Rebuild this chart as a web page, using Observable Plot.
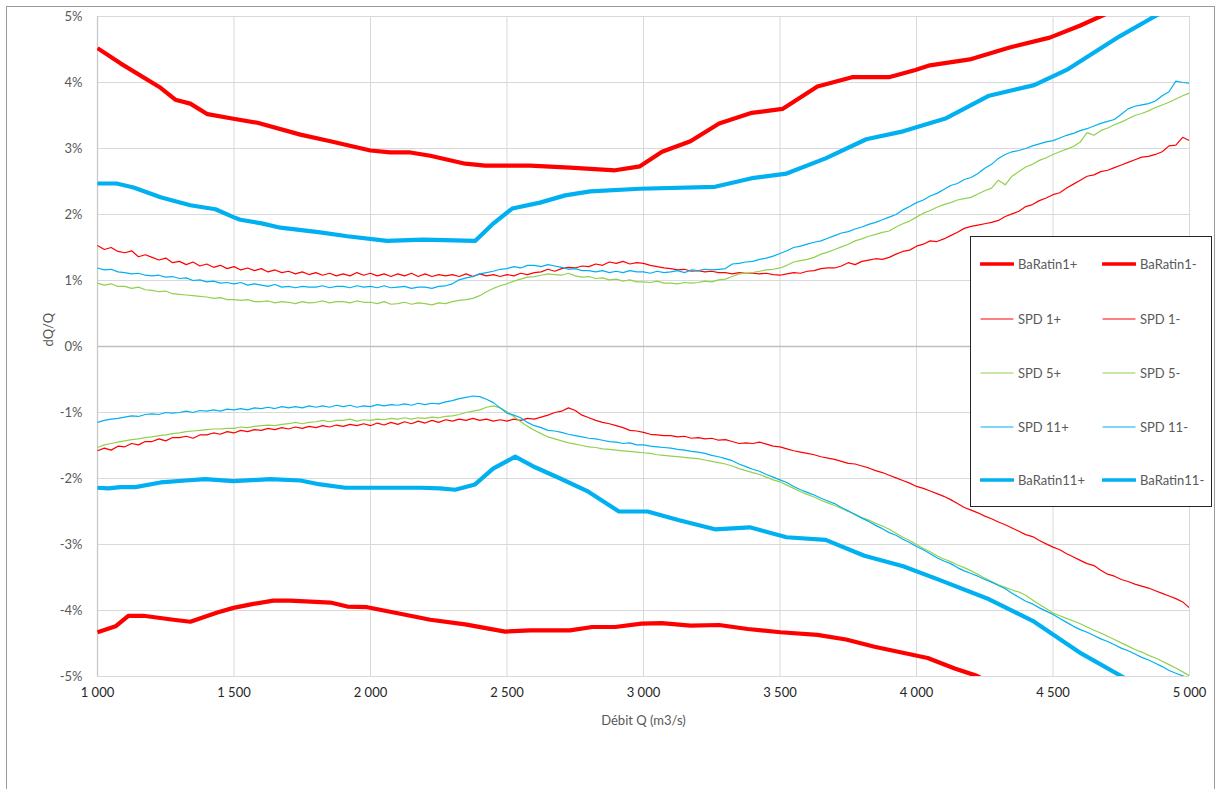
<!DOCTYPE html>
<html>
<head>
<meta charset="utf-8">
<script src="https://cdn.jsdelivr.net/npm/d3@7"></script>
<script src="https://cdn.jsdelivr.net/npm/@observablehq/plot@0.6"></script>
<style>
  body { margin: 0; background: #fff; font-family: Lato, "Open Sans", sans-serif; }
  #wrap { position: relative; width: 1216px; height: 789px; overflow: hidden; background: #fff; }
  #frame { position: absolute; left: 6px; top: 6px; width: 1209px; height: 820px; border: 1px solid #9a9a9a; box-sizing: border-box; pointer-events: none; }
  #legend { position: absolute; left: 970px; top: 236px; width: 242px; height: 271px; border: 1.5px solid #262626; background: #fff; box-sizing: border-box; }
  .item { position: absolute; display: flex; align-items: center; font-size: 13px; color: #595959; white-space: nowrap; height: 16px; }
  .item svg { margin-right: 4px; }
</style>
</head>
<body>
<div id="wrap"><div id="frame"></div></div>
<script>
// ---------- data ----------
const xTicks = [1000, 1500, 2000, 2500, 3000, 3500, 4000, 4500, 5000];
const yTicks = [-5, -4, -3, -2, -1, 0, 1, 2, 3, 4, 5];
const xTitle = "Débit Q (m3/s)";
const yTitle = "dQ/Q";

// SPD curves sampled every 25 m3/s from 1000 to 5000
const spdQ = d3.range(1000, 5001, 25);

const spd1Plus = [
  1.53,1.47,1.50,1.44, 1.42,1.45,1.36,1.39, 1.35,1.31,1.34,1.27, 1.29,1.24,1.28,1.22,
  1.25,1.20,1.23,1.18, 1.21,1.16,1.19,1.15, 1.18,1.13,1.16,1.12, 1.14,1.10,1.13,1.09,
  1.12,1.08,1.11,1.07, 1.10,1.07,1.12,1.08, 1.11,1.07,1.10,1.06, 1.10,1.07,1.11,1.06,
  1.10,1.06,1.09,1.07, 1.09,1.06,1.10,1.06, 1.10,1.07,1.09,1.06, 1.09,1.07,1.11,1.09,
  1.12,1.13,1.17,1.14, 1.18,1.20,1.19,1.22, 1.21,1.25,1.23,1.28, 1.26,1.29,1.25,1.27,
  1.26,1.23,1.21,1.19, 1.18,1.16,1.17,1.14, 1.15,1.13,1.14,1.12, 1.12,1.10,1.12,1.11,
  1.11,1.10,1.11,1.09, 1.08,1.10,1.12,1.11, 1.14,1.15,1.18,1.19, 1.19,1.22,1.27,1.24,
  1.29,1.31,1.33,1.32, 1.35,1.40,1.44,1.46, 1.52,1.55,1.60,1.59, 1.63,1.68,1.73,1.79,
  1.82,1.84,1.86,1.88, 1.91,1.97,2.01,2.05, 2.12,2.15,2.21,2.25, 2.30,2.33,2.40,2.46,
  2.52,2.58,2.60,2.65, 2.67,2.71,2.75,2.79, 2.83,2.87,2.88,2.91, 2.95,3.04,3.05,3.17,
  3.12
];
const spd1Minus = [
  -1.58,-1.54,-1.57,-1.51, -1.52,-1.47,-1.49,-1.44, -1.44,-1.40,-1.43,-1.38, -1.38,-1.36,-1.39,-1.34,
  -1.34,-1.31,-1.33,-1.29, -1.31,-1.27,-1.29,-1.26, -1.27,-1.24,-1.26,-1.23, -1.25,-1.22,-1.24,-1.21,
  -1.23,-1.20,-1.22,-1.19, -1.21,-1.18,-1.20,-1.17, -1.20,-1.16,-1.19,-1.15, -1.18,-1.14,-1.17,-1.13,
  -1.16,-1.12,-1.15,-1.11, -1.13,-1.10,-1.12,-1.09, -1.12,-1.10,-1.13,-1.11, -1.13,-1.10,-1.12,-1.09,
  -1.10,-1.07,-1.04,-1.00, -0.98,-0.93,-0.97,-1.04, -1.08,-1.12,-1.15,-1.17, -1.20,-1.23,-1.27,-1.28,
  -1.30,-1.33,-1.34,-1.35, -1.35,-1.37,-1.36,-1.39, -1.38,-1.40,-1.39,-1.42, -1.41,-1.44,-1.47,-1.46,
  -1.47,-1.45,-1.48,-1.51, -1.52,-1.55,-1.58,-1.60, -1.62,-1.64,-1.67,-1.69, -1.71,-1.74,-1.77,-1.78,
  -1.81,-1.84,-1.88,-1.91, -1.95,-1.99,-2.03,-2.07, -2.12,-2.15,-2.19,-2.23, -2.27,-2.32,-2.38,-2.44,
  -2.48,-2.52,-2.57,-2.61, -2.66,-2.70,-2.75,-2.80, -2.85,-2.88,-2.94,-2.99, -3.04,-3.08,-3.14,-3.19,
  -3.24,-3.29,-3.32,-3.39, -3.45,-3.48,-3.53,-3.56, -3.60,-3.63,-3.66,-3.70, -3.74,-3.78,-3.82,-3.87,
  -3.96
];
const spd5Plus = [
  0.96,0.93,0.95,0.91, 0.91,0.88,0.90,0.86, 0.85,0.83,0.84,0.80, 0.79,0.78,0.77,0.76,
  0.75,0.73,0.74,0.71, 0.71,0.70,0.71,0.68, 0.68,0.69,0.66,0.68, 0.67,0.65,0.68,0.66,
  0.67,0.69,0.66,0.68, 0.68,0.66,0.69,0.67, 0.67,0.65,0.68,0.64, 0.65,0.67,0.64,0.66,
  0.65,0.63,0.66,0.65, 0.68,0.70,0.71,0.73, 0.77,0.83,0.88,0.92, 0.95,0.99,1.02,1.05,
  1.06,1.08,1.10,1.09, 1.08,1.11,1.07,1.05, 1.06,1.03,1.04,1.01, 1.02,0.99,1.01,0.98,
  0.98,0.97,0.99,0.96, 0.96,0.95,0.97,0.96, 0.97,0.99,0.98,1.01, 1.02,1.06,1.10,1.11,
  1.12,1.14,1.16,1.17, 1.19,1.23,1.28,1.30, 1.32,1.35,1.40,1.43, 1.47,1.51,1.55,1.60,
  1.63,1.67,1.70,1.73, 1.75,1.81,1.86,1.90, 1.96,2.02,2.06,2.11, 2.15,2.18,2.22,2.24,
  2.26,2.31,2.36,2.40, 2.52,2.45,2.58,2.65, 2.72,2.76,2.82,2.86, 2.91,2.95,2.99,3.03,
  3.10,3.24,3.20,3.27, 3.31,3.36,3.40,3.45, 3.50,3.53,3.57,3.62, 3.66,3.70,3.75,3.80,
  3.84
];
const spd5Minus = [
  -1.53,-1.49,-1.47,-1.45, -1.43,-1.41,-1.40,-1.38, -1.37,-1.35,-1.34,-1.32, -1.31,-1.29,-1.28,-1.27,
  -1.26,-1.25,-1.25,-1.24, -1.24,-1.22,-1.23,-1.21, -1.20,-1.19,-1.20,-1.18, -1.17,-1.15,-1.17,-1.15,
  -1.14,-1.12,-1.14,-1.12, -1.12,-1.10,-1.13,-1.11, -1.12,-1.10,-1.11,-1.09, -1.10,-1.08,-1.10,-1.08,
  -1.09,-1.07,-1.08,-1.06, -1.05,-1.03,-1.00,-0.98, -0.96,-0.92,-0.90,-0.93, -0.99,-1.06,-1.14,-1.21,
  -1.27,-1.32,-1.37,-1.40, -1.43,-1.46,-1.48,-1.50, -1.52,-1.53,-1.55,-1.56, -1.57,-1.58,-1.59,-1.60,
  -1.61,-1.62,-1.64,-1.65, -1.66,-1.67,-1.68,-1.69, -1.70,-1.72,-1.74,-1.76, -1.78,-1.81,-1.85,-1.88,
  -1.91,-1.94,-1.98,-2.02, -2.05,-2.10,-2.15,-2.20, -2.24,-2.28,-2.33,-2.37, -2.41,-2.45,-2.50,-2.54,
  -2.59,-2.63,-2.68,-2.72, -2.77,-2.83,-2.89,-2.94, -3.00,-3.06,-3.11,-3.17, -3.22,-3.26,-3.31,-3.35,
  -3.40,-3.45,-3.51,-3.56, -3.61,-3.65,-3.69,-3.72, -3.77,-3.84,-3.91,-3.97, -4.04,-4.08,-4.12,-4.16,
  -4.20,-4.25,-4.30,-4.34, -4.39,-4.44,-4.49,-4.54, -4.59,-4.63,-4.68,-4.72, -4.77,-4.82,-4.87,-4.93,
  -4.99
];
const spd11Plus = [
  1.19,1.16,1.17,1.13, 1.12,1.10,1.11,1.08, 1.07,1.08,1.05,1.06, 1.03,1.04,1.00,1.01,
  0.98,0.99,0.96,0.97, 0.95,0.97,0.93,0.95, 0.93,0.91,0.94,0.90, 0.91,0.89,0.91,0.90,
  0.90,0.92,0.89,0.91, 0.91,0.89,0.92,0.90, 0.91,0.89,0.92,0.89, 0.90,0.91,0.88,0.90,
  0.90,0.88,0.91,0.92, 0.95,1.01,1.04,1.06, 1.10,1.12,1.14,1.17, 1.18,1.21,1.19,1.23,
  1.23,1.21,1.24,1.22, 1.20,1.17,1.18,1.15, 1.15,1.13,1.15,1.12, 1.14,1.12,1.15,1.13,
  1.13,1.11,1.14,1.12, 1.13,1.15,1.12,1.16, 1.15,1.17,1.16,1.17, 1.18,1.25,1.26,1.28,
  1.29,1.32,1.34,1.37, 1.41,1.45,1.50,1.52, 1.55,1.58,1.60,1.64, 1.68,1.72,1.74,1.78,
  1.81,1.85,1.88,1.92, 1.96,2.00,2.07,2.12, 2.18,2.22,2.28,2.32, 2.38,2.44,2.47,2.53,
  2.56,2.62,2.70,2.76, 2.85,2.91,2.95,2.97, 3.00,3.04,3.07,3.10, 3.12,3.16,3.20,3.23,
  3.27,3.30,3.34,3.38, 3.41,3.44,3.52,3.60, 3.64,3.66,3.68,3.72, 3.80,3.86,4.02,4.00,
  3.99
];
const spd11Minus = [
  -1.15,-1.12,-1.10,-1.09, -1.07,-1.05,-1.06,-1.03, -1.02,-1.03,-1.00,-1.01, -1.00,-0.98,-1.00,-0.97,
  -0.98,-0.96,-0.98,-0.95, -0.96,-0.94,-0.96,-0.93, -0.94,-0.92,-0.94,-0.91, -0.93,-0.91,-0.93,-0.90,
  -0.92,-0.90,-0.92,-0.89, -0.91,-0.89,-0.92,-0.90, -0.91,-0.88,-0.90,-0.88, -0.89,-0.87,-0.89,-0.86,
  -0.88,-0.86,-0.87,-0.84, -0.82,-0.79,-0.77,-0.75, -0.76,-0.80,-0.85,-0.93, -1.01,-1.04,-1.08,-1.15,
  -1.20,-1.23,-1.27,-1.28, -1.30,-1.33,-1.35,-1.37, -1.39,-1.40,-1.42,-1.44, -1.45,-1.47,-1.46,-1.49,
  -1.49,-1.51,-1.52,-1.53, -1.54,-1.56,-1.57,-1.59, -1.60,-1.62,-1.65,-1.67, -1.70,-1.73,-1.78,-1.82,
  -1.86,-1.89,-1.94,-1.98, -2.02,-2.06,-2.12,-2.17, -2.21,-2.25,-2.30,-2.34, -2.38,-2.44,-2.49,-2.55,
  -2.60,-2.65,-2.71,-2.76, -2.82,-2.86,-2.92,-2.97, -3.03,-3.08,-3.14,-3.20, -3.25,-3.29,-3.35,-3.40,
  -3.44,-3.48,-3.53,-3.57, -3.62,-3.67,-3.74,-3.80, -3.86,-3.90,-3.96,-4.01, -4.06,-4.12,-4.18,-4.24,
  -4.29,-4.33,-4.38,-4.43, -4.47,-4.52,-4.57,-4.61, -4.66,-4.71,-4.75,-4.80, -4.85,-4.91,-4.95,-4.99,
  -5.03
];

// BaRatin curves (own sample points)
const baratin1PlusQ = [1000,1084,1231,1285,1340,1403,1498,1586,1743,1853,2000,2072,2146,2219,2347,2420,2585,2731,2896,2987,3068,3172,3277,3397,3509,3637,3764,3899,3996,4049,4195,4341,4488,4598,4700,4850];
const baratin1Plus  = [4.52,4.29,3.92,3.74,3.68,3.52,3.45,3.39,3.21,3.11,2.97,2.94,2.94,2.89,2.77,2.74,2.74,2.71,2.67,2.73,2.95,3.11,3.38,3.54,3.60,3.94,4.08,4.08,4.19,4.26,4.35,4.53,4.68,4.86,5.05,5.30];

const baratin1MinusQ = [1000,1066,1113,1168,1278,1340,1439,1498,1571,1644,1706,1853,1915,1988,2109,2219,2347,2493,2585,2731,2812,2896,2993,3067,3172,3277,3382,3502,3637,3742,3846,4041,4140,4221,4400];
const baratin1Minus  = [-4.33,-4.24,-4.08,-4.08,-4.14,-4.17,-4.03,-3.96,-3.90,-3.85,-3.85,-3.88,-3.94,-3.95,-4.05,-4.14,-4.21,-4.32,-4.30,-4.30,-4.25,-4.25,-4.20,-4.19,-4.23,-4.22,-4.28,-4.33,-4.37,-4.44,-4.55,-4.72,-4.88,-4.99,-5.40];

const baratin11PlusQ = [1000,1070,1132,1231,1285,1340,1432,1498,1523,1597,1670,1816,1915,2061,2193,2383,2446,2519,2621,2713,2805,2987,3262,3397,3524,3667,3816,3951,4109,4266,4431,4550,4744,4872,5000];
const baratin11Plus  = [2.47,2.47,2.41,2.26,2.20,2.14,2.08,1.96,1.92,1.87,1.80,1.73,1.67,1.60,1.62,1.60,1.85,2.09,2.18,2.29,2.35,2.39,2.42,2.55,2.62,2.85,3.14,3.26,3.46,3.80,3.96,4.19,4.70,5.00,5.30];

const baratin11MinusQ = [1000,1040,1084,1139,1231,1322,1395,1498,1633,1743,1816,1908,2036,2183,2255,2310,2383,2449,2530,2603,2695,2798,2910,3015,3127,3262,3389,3524,3667,3809,3951,4086,4266,4431,4603,4753,4900];
const baratin11Minus  = [-2.14,-2.15,-2.13,-2.13,-2.06,-2.03,-2.01,-2.04,-2.01,-2.03,-2.09,-2.14,-2.14,-2.14,-2.15,-2.17,-2.09,-1.85,-1.67,-1.83,-2.00,-2.20,-2.50,-2.50,-2.63,-2.77,-2.74,-2.89,-2.93,-3.17,-3.33,-3.54,-3.83,-4.17,-4.65,-5.00,-5.40];

// series in drawing order (legend order)
const seriesNames = ["BaRatin1+","BaRatin1-","SPD 1+","SPD 1-","SPD 5+","SPD 5-","SPD 11+","SPD 11-","BaRatin11+","BaRatin11-"];
const seriesQ = [baratin1PlusQ, baratin1MinusQ, spdQ, spdQ, spdQ, spdQ, spdQ, spdQ, baratin11PlusQ, baratin11MinusQ];
const seriesV = [baratin1Plus, baratin1Minus, spd1Plus, spd1Minus, spd5Plus, spd5Minus, spd11Plus, spd11Minus, baratin11Plus, baratin11Minus];

// ---------- styles ----------
const RED = "#ff0000", GREEN = "#92d050", BLUE = "#00b0f0";
const seriesColor = [RED, RED, RED, RED, GREEN, GREEN, BLUE, BLUE, BLUE, BLUE];
const seriesWidth = [4.2, 4.2, 1.2, 1.2, 1.2, 1.2, 1.2, 1.2, 4.2, 4.2];

const fmtX = d => d3.format(",")(d).replace(/,/g, "\u00a0");

const lineMarks = seriesNames.map((name, k) => {
  const qs = seriesQ[k], vs = seriesV[k];
  const n = Math.min(qs.length, vs.length);
  const rows = d3.range(n).map(i => ({q: qs[i], v: vs[i]}));
  return Plot.line(rows, {x: "q", y: "v", stroke: seriesColor[k], strokeWidth: seriesWidth[k],
    clip: true, strokeLinejoin: "round", strokeLinecap: "butt"});
});

const chart = Plot.plot({
  width: 1216, height: 789,
  marginLeft: 97, marginRight: 27, marginTop: 16, marginBottom: 113,
  style: {fontFamily: "Lato, 'Open Sans', sans-serif", fontSize: "13px", background: "transparent", overflow: "visible"},
  x: {domain: [1000, 5000]},
  y: {domain: [-5, 5]},
  marks: [
    Plot.gridY(yTicks, {stroke: "#d9d9d9", strokeOpacity: 1, strokeWidth: 1}),
    Plot.gridX(xTicks, {stroke: "#d9d9d9", strokeOpacity: 1, strokeWidth: 1}),
    Plot.ruleY([0], {stroke: "#bfbfbf", strokeWidth: 1.3}),
    Plot.ruleX([1000], {stroke: "#c8c8c8", strokeWidth: 1.3}),
    Plot.axisY(yTicks, {tickSize: 0, tickPadding: 15, tickFormat: d => d + "%", fill: "#595959", label: null}),
    Plot.axisX(xTicks, {tickSize: 0, tickPadding: 11, tickFormat: fmtX, fill: "#262626", label: null}),
    Plot.text([xTitle], {frameAnchor: "bottom", dy: 44, fill: "#595959", fontSize: 13, lineAnchor: "middle"}),
    Plot.text([yTitle], {frameAnchor: "left", dx: -49, rotate: -90, fill: "#595959", fontSize: 13, lineAnchor: "middle"}),
    ...lineMarks
  ]
});

const wrap = document.getElementById("wrap");
chart.style.position = "absolute";
chart.style.left = "0px";
chart.style.top = "0px";
wrap.insertBefore(chart, wrap.firstChild);

// ---------- legend ----------
const legend = document.createElement("div");
legend.id = "legend";
wrap.appendChild(legend);
const rowY = [27, 82, 136, 190, 243];
const colX = [9, 131];
seriesNames.forEach((name, k) => {
  const row = Math.floor(k / 2), col = k % 2;
  const item = document.createElement("div");
  item.className = "item";
  item.style.left = colX[col] + "px";
  item.style.top = (rowY[row] - 8) + "px";
  const w = seriesWidth[k] > 2 ? 3.5 : 1.2;
  item.innerHTML = `<svg width="34" height="16"><line x1="1" y1="8" x2="33" y2="8" stroke="${seriesColor[k]}" stroke-width="${w}" stroke-linecap="round"/></svg><span>${name}</span>`;
  legend.appendChild(item);
});
</script>
</body>
</html>
